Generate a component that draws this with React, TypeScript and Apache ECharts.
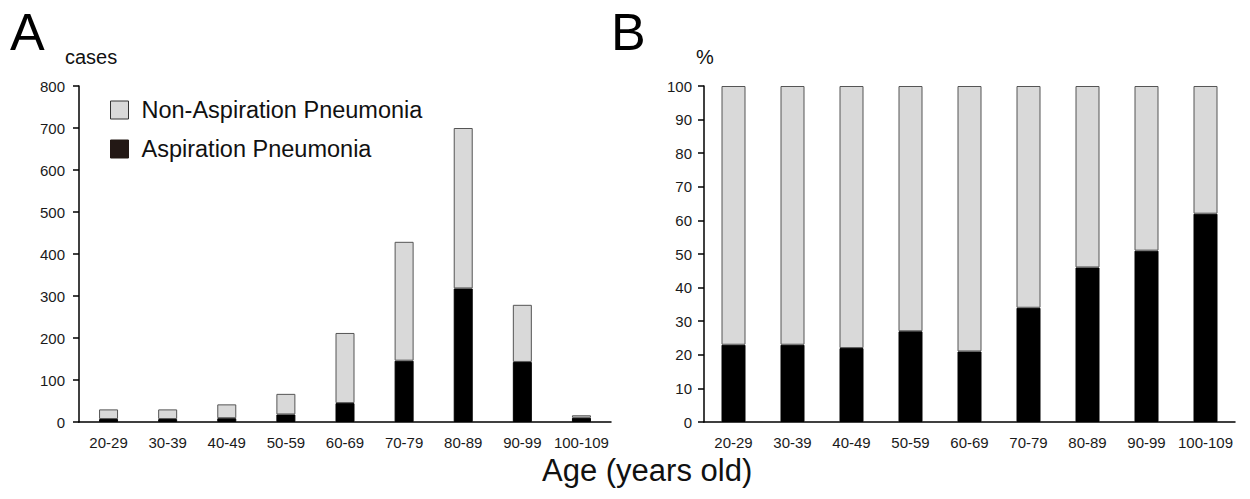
import React, { useEffect, useRef } from "react";
import * as echarts from "echarts";

const categories = ["20-29", "30-39", "40-49", "50-59", "60-69", "70-79", "80-89", "90-99", "100-109"];
// Panel A: number of cases
const aspirationCases = [7, 7, 9, 18, 45, 146, 318, 143, 10];
const totalCases = [30, 30, 42, 67, 212, 429, 700, 279, 16];
const nonAspirationCases = totalCases.map((t, i) => t - aspirationCases[i]);
// Panel B: percentage
const aspirationPct = [23, 23, 22, 27, 21, 34, 46, 51, 62];
const nonAspirationPct = aspirationPct.map((p) => 100 - p);

const FONT = "'Liberation Sans', Arial, Helvetica, sans-serif";
const GRAY = "#d9d9d9";
const GRAY_BORDER = "#555555";

export default function App() {
  const ref = useRef<HTMLDivElement>(null);
  useEffect(() => {
    document.body.style.margin = "0";
    const chart = echarts.init(ref.current!, null, { renderer: "svg" });
    const axisLine = { show: true, lineStyle: { color: "#000", width: 1.5 } };
    const xAxisCommon = {
      type: "category" as const,
      data: categories,
      axisLine,
      axisTick: { show: false },
      axisLabel: { color: "#1a1a1a", fontSize: 15, fontFamily: FONT, margin: 13, interval: 0 },
    };
    const yAxisCommon = {
      type: "value" as const,
      min: 0,
      axisLine,
      axisTick: { show: true, length: 6, lineStyle: { color: "#000", width: 1.5 } },
      splitLine: { show: false },
      axisLabel: { color: "#1a1a1a", fontSize: 15, fontFamily: FONT },
    };
    chart.setOption({
      animation: false,
      textStyle: { fontFamily: FONT },
      grid: [
        { left: 79, top: 86, width: 532, height: 336 },
        { left: 704, top: 86, width: 531, height: 336 },
      ],
      xAxis: [
        { ...xAxisCommon, gridIndex: 0 },
        { ...xAxisCommon, gridIndex: 1 },
      ],
      yAxis: [
        { ...yAxisCommon, gridIndex: 0, max: 800, interval: 100, axisLabel: { ...yAxisCommon.axisLabel, margin: 14 } },
        { ...yAxisCommon, gridIndex: 1, max: 100, interval: 10, axisLabel: { ...yAxisCommon.axisLabel, margin: 12 } },
      ],
      legend: {
        orient: "vertical",
        left: 105,
        top: 93,
        itemWidth: 18,
        itemHeight: 18,
        itemGap: 15,
        icon: "rect",
        textStyle: { fontSize: 23.5, fontFamily: FONT, color: "#111", padding: [0, 0, 0, 8] },
        data: [
          { name: "Non-Aspiration Pneumonia", itemStyle: { color: GRAY, borderColor: "#333", borderWidth: 1 } },
          { name: "Aspiration Pneumonia", itemStyle: { color: "#231815", borderColor: "#231815", borderWidth: 1 } },
        ],
      },
      series: [
        {
          name: "Aspiration Pneumonia",
          type: "bar",
          stack: "a",
          xAxisIndex: 0,
          yAxisIndex: 0,
          barWidth: 19,
          data: aspirationCases,
          itemStyle: { color: "#000", borderColor: "#000", borderWidth: 1 },
        },
        {
          name: "Non-Aspiration Pneumonia",
          type: "bar",
          stack: "a",
          xAxisIndex: 0,
          yAxisIndex: 0,
          barWidth: 19,
          data: nonAspirationCases,
          itemStyle: { color: GRAY, borderColor: GRAY_BORDER, borderWidth: 1 },
        },
        {
          name: "Aspiration Pneumonia",
          type: "bar",
          stack: "b",
          xAxisIndex: 1,
          yAxisIndex: 1,
          barWidth: 24,
          data: aspirationPct,
          itemStyle: { color: "#000", borderColor: "#000", borderWidth: 1 },
        },
        {
          name: "Non-Aspiration Pneumonia",
          type: "bar",
          stack: "b",
          xAxisIndex: 1,
          yAxisIndex: 1,
          barWidth: 24,
          data: nonAspirationPct,
          itemStyle: { color: GRAY, borderColor: GRAY_BORDER, borderWidth: 1 },
        },
      ],
      graphic: [
        { type: "text", left: 10, top: 6, style: { text: "A", fontSize: 52, fontFamily: FONT, fill: "#000" } },
        { type: "text", left: 65, top: 47, style: { text: "cases", fontSize: 20, fontFamily: FONT, fill: "#111" } },
        { type: "text", left: 611, top: 6, style: { text: "B", fontSize: 52, fontFamily: FONT, fill: "#000" } },
        { type: "text", left: 696, top: 47, style: { text: "%", fontSize: 20, fontFamily: FONT, fill: "#111" } },
        { type: "text", left: 542, top: 455, style: { text: "Age (years old)", fontSize: 31, fontFamily: FONT, fill: "#111" } },
      ],
    });
    return () => chart.dispose();
  }, []);
  return <div ref={ref} style={{ width: 1250, height: 499 }} />;
}
